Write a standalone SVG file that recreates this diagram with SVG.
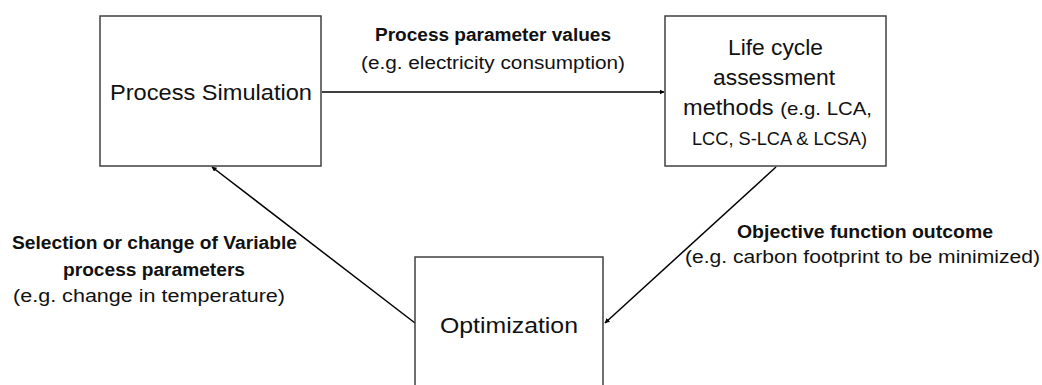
<svg xmlns="http://www.w3.org/2000/svg" width="1042" height="385" viewBox="0 0 1042 385">
<style>
.box{fill:#ffffff;stroke:#404040;stroke-width:1.5}
.conn{stroke:#000000;stroke-width:1.5;fill:none}
text{font-family:"Liberation Sans",Arial,sans-serif;fill:#111111}
.main{font-size:22px}
.sub{font-size:19px}
.lb{font-size:17.5px;font-weight:bold}
.lr{font-size:17.5px}
</style>
<defs>
<marker id="ah" viewBox="0 0 10 10" refX="9" refY="5" markerWidth="5" markerHeight="5" orient="auto" markerUnits="userSpaceOnUse">
<path d="M0,0 L10,5 L0,10 z" fill="#000"/>
</marker>
</defs>
<rect width="1042" height="385" fill="#ffffff"/>
<g id="connectors">
<line class="conn" x1="322" y1="92" x2="664" y2="92" marker-end="url(#ah)" style="marker-end:url(#ah)"/>
<line class="conn" x1="776" y1="167" x2="605" y2="323" marker-end="url(#ah)"/>
<line class="conn" x1="415" y1="323" x2="212" y2="167" marker-end="url(#ah)"/>
</g>
<g id="node-process-simulation">
<rect class="box" x="100" y="16" width="221" height="150"/>
<text class="main" x="211" y="100" text-anchor="middle" textLength="202" lengthAdjust="spacingAndGlyphs">Process Simulation</text>
</g>
<g id="node-lca">
<rect class="box" x="665" y="16" width="221" height="150"/>
<text class="main" x="775.5" y="55" text-anchor="middle" textLength="95" lengthAdjust="spacingAndGlyphs">Life cycle</text>
<text class="main" x="774" y="85" text-anchor="middle" textLength="122" lengthAdjust="spacingAndGlyphs">assessment</text>
<text x="777.5" y="115" text-anchor="middle" textLength="189" lengthAdjust="spacingAndGlyphs"><tspan class="main">methods </tspan><tspan class="sub">(e.g. LCA,</tspan></text>
<text class="sub" x="779.5" y="145" text-anchor="middle" textLength="175" lengthAdjust="spacingAndGlyphs">LCC, S-LCA &amp; LCSA)</text>
</g>
<g id="node-optimization">
<rect class="box" x="415" y="257" width="188" height="140"/>
<text class="main" x="509" y="333" text-anchor="middle" textLength="138" lengthAdjust="spacingAndGlyphs">Optimization</text>
</g>
<g id="label-top">
<text class="lb" x="493" y="41" text-anchor="middle" textLength="236" lengthAdjust="spacingAndGlyphs">Process parameter values</text>
<text class="lr" x="493" y="69" text-anchor="middle" textLength="264" lengthAdjust="spacingAndGlyphs">(e.g. electricity consumption)</text>
</g>
<g id="label-left">
<text class="lb" x="154.5" y="249" text-anchor="middle" textLength="285" lengthAdjust="spacingAndGlyphs">Selection or change of Variable</text>
<text class="lb" x="154" y="276" text-anchor="middle" textLength="182" lengthAdjust="spacingAndGlyphs">process parameters</text>
<text class="lr" x="149" y="302" text-anchor="middle" textLength="272" lengthAdjust="spacingAndGlyphs">(e.g. change in temperature)</text>
</g>
<g id="label-right">
<text class="lb" x="865" y="238" text-anchor="middle" textLength="256" lengthAdjust="spacingAndGlyphs">Objective function outcome</text>
<text class="lr" x="862.5" y="263" text-anchor="middle" textLength="355" lengthAdjust="spacingAndGlyphs">(e.g. carbon footprint to be minimized)</text>
</g>
</svg>
